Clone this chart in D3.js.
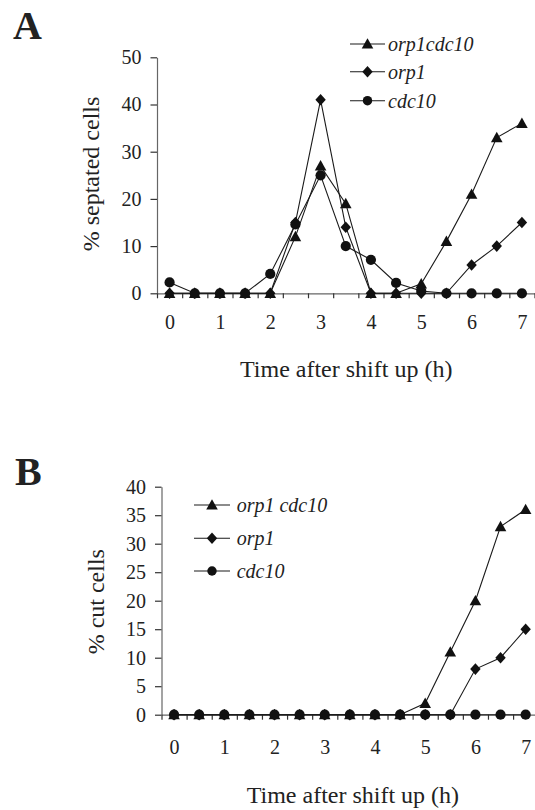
<!DOCTYPE html>
<html>
<head>
<meta charset="utf-8">
<script src="https://cdn.jsdelivr.net/npm/d3@7/dist/d3.min.js"></script>
<style>
  body { margin: 0; background: #fff; }
  svg { display: block; }
  text { font-family: "Liberation Serif", "Times New Roman", serif; fill: #222; }
</style>
</head>
<body>
<div id="chart"></div>
<script>
// time points (h) and the labelled ticks
var times = [0, 0.5, 1, 1.5, 2, 2.5, 3, 3.5, 4, 4.5, 5, 5.5, 6, 6.5, 7];
var xLabels = [0, 1, 2, 3, 4, 5, 6, 7];

// panel A : % septated cells
var septNames = ["orp1cdc10", "orp1", "cdc10"];
var septOrp1Cdc10 = [0, 0, 0, 0, 0, 12, 27, 19, 0, 0, 2, 11, 21, 33, 36];
var septOrp1 = [0, 0, 0, 0, 0, 15, 41, 14, 0, 0, 0, 0, 6, 10, 15];
var septCdc10 = [2.3, 0, 0, 0, 4.1, 14.6, 25, 10, 7.1, 2.2, 0.5, 0, 0, 0, 0];
var septTicks = [0, 10, 20, 30, 40, 50];

// panel B : % cut cells
var cutNames = ["orp1 cdc10", "orp1", "cdc10"];
var cutOrp1Cdc10 = [0, 0, 0, 0, 0, 0, 0, 0, 0, 0, 2, 11, 20, 33, 36];
var cutOrp1 = [0, 0, 0, 0, 0, 0, 0, 0, 0, 0, 0, 0, 8, 10, 15];
var cutCdc10 = [0, 0, 0, 0, 0, 0, 0, 0, 0, 0, 0, 0, 0, 0, 0];
var cutTicks = [0, 5, 10, 15, 20, 25, 30, 35, 40];

var svgWidth = 535;
var svgHeight = 810;

var svg = d3.select("#chart")
  .append("svg")
  .attr("width", svgWidth)
  .attr("height", svgHeight);

// marker shapes
var triangle = {
  draw: function(ctx) {
    ctx.moveTo(0, -5.8);
    ctx.lineTo(5.8, 4.6);
    ctx.lineTo(-5.8, 4.6);
    ctx.closePath();
  }
};
var diamond = {
  draw: function(ctx) {
    ctx.moveTo(0, -5.8);
    ctx.lineTo(5.2, 0);
    ctx.lineTo(0, 5.8);
    ctx.lineTo(-5.2, 0);
    ctx.closePath();
  }
};
var shapes = [triangle, diamond, d3.symbolCircle];
var shapeSizes = [1, 1, 82];

function panel(p) {
  var x = d3.scaleLinear().domain([-0.25, 7.25]).range(p.xRange);
  var y = d3.scaleLinear().domain([0, p.yMax]).range(p.yRange);
  var g = svg.append("g");

  // y axis
  var yAxis = g.append("g")
    .attr("transform", `translate(${p.xRange[0]},0)`)
    .call(d3.axisLeft(y).tickValues(p.yTicks).tickSize(6.5).tickPadding(9).tickSizeOuter(0));

  // x axis: ticks between the categories
  var xAxis = g.append("g")
    .attr("transform", `translate(0,${p.yRange[0]})`)
    .call(d3.axisBottom(x).tickValues(d3.range(-0.25, 7.3, 0.5)).tickSize(5).tickSizeOuter(0).tickFormat(""));

  // x labels every hour
  var xLab = g.append("g")
    .attr("transform", `translate(0,${p.yRange[0]})`)
    .call(d3.axisBottom(x).tickValues(xLabels).tickSize(0).tickPadding(p.labelPad).tickFormat(d3.format("d")));
  xLab.select(".domain").remove();

  [yAxis, xAxis, xLab].forEach(function(a) {
    a.attr("font-family", null);
    a.selectAll("text")
      .attr("font-size", 20)
      .attr("fill", "#222");
    a.selectAll(".domain").attr("stroke", "#666").attr("stroke-width", 1.2);
    a.selectAll(".tick line").attr("stroke", "#333").attr("stroke-width", 1.2);
  });

  var line = d3.line()
    .x(function(d, i) { return x(times[i]); })
    .y(function(d) { return y(d); });

  p.series.forEach(function(vals, k) {
    g.append("path")
      .datum(vals)
      .attr("fill", "none")
      .attr("stroke", "#1a1a1a")
      .attr("stroke-width", 1.1)
      .attr("d", line);
    g.selectAll(".m" + k)
      .data(vals)
      .enter()
      .append("path")
      .attr("class", "m" + k)
      .attr("fill", "#111")
      .attr("transform", function(d, i) { return `translate(${x(times[i])},${y(d)})`; })
      .attr("d", d3.symbol().type(shapes[k]).size(shapeSizes[k]));
  });

  // legend
  p.names.forEach(function(name, k) {
    var ly = p.legend.y[k];
    g.append("line")
      .attr("x1", p.legend.x1).attr("x2", p.legend.x2)
      .attr("y1", ly).attr("y2", ly)
      .attr("stroke", "#1a1a1a").attr("stroke-width", 1.1);
    g.append("path")
      .attr("fill", "#111")
      .attr("transform", `translate(${(p.legend.x1 + p.legend.x2) / 2},${ly})`)
      .attr("d", d3.symbol().type(shapes[k]).size(shapeSizes[k] * 0.85));
    g.append("text")
      .attr("x", p.legend.tx)
      .attr("y", ly + 7)
      .attr("font-size", 20)
      .attr("font-style", "italic")
      .text(name);
  });

  // axis titles and panel letter
  g.append("text")
    .attr("x", p.xTitle[0])
    .attr("y", p.xTitle[1])
    .attr("font-size", 24)
    .text("Time after shift up (h)");

  g.append("text")
    .attr("transform", `translate(${p.yTitle[0]},${p.yTitle[1]}) rotate(-90)`)
    .attr("text-anchor", "middle")
    .attr("font-size", 24)
    .text(p.yLabel);

  g.append("text")
    .attr("x", p.letter[0])
    .attr("y", p.letter[1])
    .attr("font-size", 40)
    .attr("font-weight", "bold")
    .text(p.letterText);
}

panel({
  xRange: [157, 534.5],
  yRange: [293.3, 57.3],
  yMax: 50,
  yTicks: septTicks,
  labelPad: 22,
  series: [septOrp1Cdc10, septOrp1, septCdc10],
  names: septNames,
  legend: { x1: 350, x2: 385, tx: 388, y: [44, 71.7, 100.7] },
  xTitle: [240, 376.7],
  yTitle: [99, 174],
  yLabel: "% septated cells",
  letter: [13, 39.3],
  letterText: "A"
});

panel({
  xRange: [161.5, 538.2],
  yRange: [714.7, 486.7],
  yMax: 40,
  yTicks: cutTicks,
  labelPad: 25,
  series: [cutOrp1Cdc10, cutOrp1, cutCdc10],
  names: cutNames,
  legend: { x1: 194, x2: 230, tx: 236.7, y: [505, 538.3, 571] },
  xTitle: [246.7, 802.7],
  yTitle: [104, 601.7],
  yLabel: "% cut cells",
  letter: [15, 485],
  letterText: "B"
});
</script>
</body>
</html>
